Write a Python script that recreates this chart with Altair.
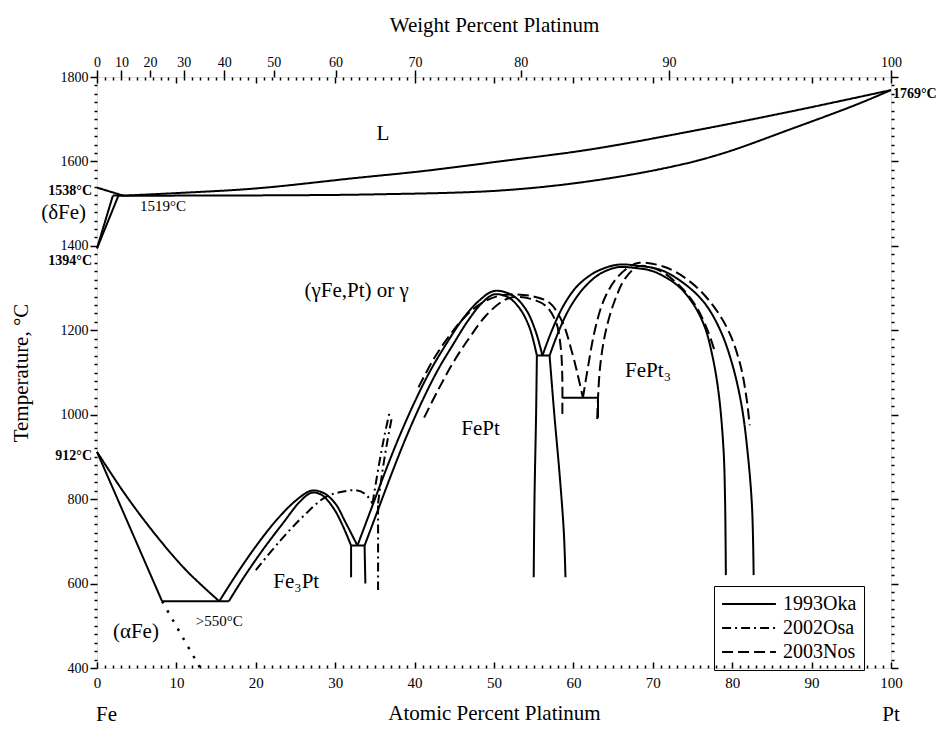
import altair as alt
import pandas as pd

SERIF = "Liberation Serif"

# ---------------- data: x = at.% Pt, t = temperature (°C) ----------------
# 1993Oka (solid)
liq_delta_x = [0, 3.3]
liq_delta_t = [1538, 1519]
liq_x = [3.3, 10, 20, 32.7, 41, 50.7, 62, 74.7, 87.3, 100]
liq_t = [1519, 1525, 1536, 1561, 1577, 1600, 1628, 1671, 1718, 1769]
sol_x = [2.7, 10, 20, 35, 50.7, 62, 72.5, 78.8, 87.3, 95.7, 100]
sol_t = [1519, 1519, 1519.5, 1522, 1531, 1553, 1588, 1619, 1676, 1735, 1769]
peri_x = [2.0, 3.3]
peri_t = [1519, 1519]
delta_a_x = [0, 2.0]
delta_a_t = [1394, 1519]
delta_b_x = [0, 2.7]
delta_b_t = [1394, 1519]
alpha_x = [0, 8.2]
alpha_t = [912, 558]
gamma_a_x = [0, 3.6, 7.4, 11.2, 15.4]
gamma_a_t = [912, 810, 715, 632, 558]
eut558_x = [8.2, 16.6]
eut558_t = [558, 558]
fe3pt_out_x = [15.4, 17.5, 20, 22.5, 25, 27, 28.5, 30, 31.3, 32.8]
fe3pt_out_t = [558, 620, 688, 748, 796, 820, 815, 790, 745, 690]
fe3pt_in_x = [16.6, 18.5, 21, 23.5, 25.5, 27, 28.3, 29.8, 31, 32.0]
fe3pt_in_t = [558, 615, 683, 745, 793, 815, 810, 778, 735, 690]
eut690_x = [32.0, 33.7]
eut690_t = [690, 690]
fe3pt_solv_x = [32.0, 32.0]
fe3pt_solv_t = [690, 615]
fept_solv_l_x = [33.7, 33.8]
fept_solv_l_t = [690, 600]
fept_out_x = [32.8, 34.4, 36.2, 38, 40, 42, 44, 46, 48, 50, 52.3, 54, 55.2, 56.1]
fept_out_t = [690, 770, 860, 945, 1030, 1105, 1168, 1225, 1268, 1293, 1283, 1250, 1200, 1140]
fept_in_x = [33.7, 35.3, 37.1, 38.9, 40.9, 42.9, 44.9, 46.7, 48.5, 50, 51.8, 53.3, 54.5, 55.4]
fept_in_t = [690, 770, 860, 945, 1030, 1105, 1168, 1222, 1265, 1285, 1278, 1250, 1205, 1140]
fept_solv_r_x = [55.4, 55.3, 55.1, 55.0]
fept_solv_r_t = [1140, 1000, 800, 615]
eut1140_x = [55.4, 57.0]
eut1140_t = [1140, 1140]
fept3_out_x = [56.1, 57.3, 58.8, 60.5, 62.5, 64.5, 66, 68, 71, 74, 76.5, 78.5, 80, 81.2, 82, 82.5, 82.7]
fept3_out_t = [1140, 1200, 1260, 1305, 1335, 1351, 1356, 1353, 1343, 1310, 1265, 1200, 1120, 1020, 900, 780, 620]
fept3_in_x = [57.0, 58.2, 59.6, 61.3, 63.2, 65, 66, 68, 70, 73, 75, 76.5, 77.5, 78.3, 78.9, 79.1, 79.2]
fept3_in_t = [1140, 1200, 1255, 1300, 1332, 1347, 1350, 1347, 1340, 1308, 1265, 1210, 1140, 1050, 920, 800, 620]
fept3_solv_l_x = [57.0, 57.6, 58.3, 58.8, 59.0]
fept3_solv_l_t = [1140, 1000, 850, 720, 615]
eut1040_x = [58.6, 63.1]
eut1040_t = [1040, 1040]
v1040_x = [63.1, 63.1]
v1040_t = [1040, 993]

# 2002Osa (dash-dot)
osa_fe3pt_x = [20, 23, 26, 28.8, 31, 32.6, 33.8, 34.7]
osa_fe3pt_t = [632, 700, 760, 805, 818, 821, 812, 790]
osa_fept_a_x = [34.7, 35.5, 36.2, 36.9]
osa_fept_a_t = [790, 880, 950, 1010]
osa_fept_b_x = [35.4, 35.9, 36.5, 37.1]
osa_fept_b_t = [790, 860, 930, 990]
osa_solv_x = [35.4, 35.4]
osa_solv_t = [785, 585]

# 2003Nos (dashed)
nos_fept_out_x = [40.5, 42.5, 44.5, 46.5, 48.5, 50.5, 52.3, 55, 57, 58.6, 59.8, 60.6, 61.2]
nos_fept_out_t = [1065, 1135, 1190, 1235, 1265, 1281, 1285, 1280, 1265, 1220, 1150, 1090, 1040]
nos_fept_in_x = [41.2, 43, 45, 47, 49, 51, 52.3, 54.5, 56.5, 57.8, 58.4, 58.6, 58.6]
nos_fept_in_t = [993, 1060, 1128, 1185, 1235, 1268, 1278, 1275, 1258, 1220, 1160, 1090, 990]
nos_fept3_out_x = [61.2, 61.9, 62.7, 63.8, 65.3, 67, 68.3, 71.5, 74.5, 77.2, 79.5, 81, 81.8, 82.2]
nos_fept3_out_t = [1040, 1120, 1200, 1270, 1320, 1350, 1360, 1350, 1318, 1268, 1200, 1120, 1040, 975]
nos_fept3_in_x = [63.0, 63.1, 63.4, 64.1, 65.2, 66.6, 68.3, 71, 73.5, 75.5, 77, 77.8]
nos_fept3_in_t = [990, 1040, 1120, 1200, 1270, 1325, 1352, 1340, 1303, 1255, 1195, 1150]

# metastable alpha solvus extension (dotted)
alpha_ext_x = [8.2, 13]
alpha_ext_t = [558, 400]

sources = ["1993Oka", "2002Osa", "2003Nos"]

# top axis: weight percent ticks
wt_ticks = [0, 10, 20, 30, 40, 50, 60, 70, 80, 90, 100]
M_FE, M_PT = 55.845, 195.08

# annotations
big_text = ["L", "(γFe,Pt) or γ", "FePt", "FePt₃", "Fe₃Pt", "(αFe)", "(δFe)"]
big_x = [36.0, 32.7, 48.3, 69.4, 25.1, 4.9, -4.2]
big_t = [1664, 1293, 965, 1104, 603, 485, 1477]
small_text = ["1519°C", ">550°C"]
small_x = [8.3, 15.4]
small_t = [1494, 511]
bold_l_text = ["1538°C", "1394°C", "912°C"]
bold_l_x = [0, 0, 0]
bold_l_t = [1530, 1364, 903]
bold_r_text = ["1769°C"]
bold_r_x = [100]
bold_r_t = [1760]
end_text = ["Fe", "Pt"]
end_x = [1.2, 100]
end_t = [289, 289]

# ---------------- build tables ----------------
curves = [
    ("liq_delta", "1993Oka", liq_delta_x, liq_delta_t),
    ("liq", "1993Oka", liq_x, liq_t),
    ("sol", "1993Oka", sol_x, sol_t),
    ("peri", "1993Oka", peri_x, peri_t),
    ("delta_a", "1993Oka", delta_a_x, delta_a_t),
    ("delta_b", "1993Oka", delta_b_x, delta_b_t),
    ("alpha", "1993Oka", alpha_x, alpha_t),
    ("gamma_a", "1993Oka", gamma_a_x, gamma_a_t),
    ("eut558", "1993Oka", eut558_x, eut558_t),
    ("fe3pt_out", "1993Oka", fe3pt_out_x, fe3pt_out_t),
    ("fe3pt_in", "1993Oka", fe3pt_in_x, fe3pt_in_t),
    ("eut690", "1993Oka", eut690_x, eut690_t),
    ("fe3pt_solv", "1993Oka", fe3pt_solv_x, fe3pt_solv_t),
    ("fept_solv_l", "1993Oka", fept_solv_l_x, fept_solv_l_t),
    ("fept_out", "1993Oka", fept_out_x, fept_out_t),
    ("fept_in", "1993Oka", fept_in_x, fept_in_t),
    ("fept_solv_r", "1993Oka", fept_solv_r_x, fept_solv_r_t),
    ("eut1140", "1993Oka", eut1140_x, eut1140_t),
    ("fept3_out", "1993Oka", fept3_out_x, fept3_out_t),
    ("fept3_in", "1993Oka", fept3_in_x, fept3_in_t),
    ("fept3_solv_l", "1993Oka", fept3_solv_l_x, fept3_solv_l_t),
    ("eut1040", "1993Oka", eut1040_x, eut1040_t),
    ("v1040", "1993Oka", v1040_x, v1040_t),
    ("osa_fe3pt", "2002Osa", osa_fe3pt_x, osa_fe3pt_t),
    ("osa_fept_a", "2002Osa", osa_fept_a_x, osa_fept_a_t),
    ("osa_fept_b", "2002Osa", osa_fept_b_x, osa_fept_b_t),
    ("osa_solv", "2002Osa", osa_solv_x, osa_solv_t),
    ("nos_fept_out", "2003Nos", nos_fept_out_x, nos_fept_out_t),
    ("nos_fept_in", "2003Nos", nos_fept_in_x, nos_fept_in_t),
    ("nos_fept3_out", "2003Nos", nos_fept3_out_x, nos_fept3_out_t),
    ("nos_fept3_in", "2003Nos", nos_fept3_in_x, nos_fept3_in_t),
]
rows = []
for name, src, xs, ts in curves:
    for i, (xv, tv) in enumerate(zip(xs, ts)):
        rows.append({"curve": name, "source": src, "x": xv, "T": tv, "i": i})
df = pd.DataFrame(rows)

df_dot = pd.DataFrame({"x": alpha_ext_x, "T": alpha_ext_t, "i": list(range(len(alpha_ext_x)))})


def wt_to_at(w):
    if w <= 0:
        return 0.0
    if w >= 100:
        return 100.0
    a = w / M_PT
    b = (100 - w) / M_FE
    return 100 * a / (a + b)


wt_pos = [round(wt_to_at(w), 3) for w in wt_ticks]
expr = "'%d'" % wt_ticks[-1]
for k in range(len(wt_pos) - 2, -1, -1):
    mid = (wt_pos[k] + wt_pos[k + 1]) / 2
    expr = "datum.value < %.3f ? '%d' : (%s)" % (mid, wt_ticks[k], expr)

xscale = alt.Scale(domain=[0, 100], nice=False, zero=False)
yscale = alt.Scale(domain=[400, 1800], nice=False, zero=False)
W, H = 794, 591

minor_x = list(range(0, 101, 1))
minor_y = list(range(400, 1801, 20))

x_bottom = alt.Axis(orient="bottom", values=list(range(0, 101, 10)), ticks=False, tickSize=0,
                    domain=False, grid=False, labelFont=SERIF, labelFontSize=15, labelPadding=7,
                    labelColor="black", labelFlush=False,
                    title="Atomic Percent Platinum", titleFont=SERIF, titleFontSize=21,
                    titleFontWeight="normal", titleColor="black", titlePadding=12)
y_left = alt.Axis(orient="left", values=minor_y, grid=False, domain=False, format="d",
                  labelExpr="datum.value % 200 === 0 ? datum.label : ''",
                  labelOverlap=False, labelFlush=False,
                  tickSize={"condition": {"test": "datum.value % 200 === 0", "value": 7}, "value": 3},
                  tickColor="black", tickWidth=1.5,
                  labelFont=SERIF, labelFontSize=14, labelPadding=2, labelColor="black",
                  title="Temperature, °C", titleFont=SERIF, titleFontSize=21,
                  titleFontWeight="normal", titleColor="black", titlePadding=29)
x_top = alt.Axis(orient="top", values=wt_pos, labelExpr=expr, grid=False, domain=False,
                 tickSize=7, tickColor="black", tickWidth=1.5, labelOverlap=False, labelFlush=False,
                 labelFont=SERIF, labelFontSize=14, labelPadding=1, labelColor="black",
                 title="Weight Percent Platinum", titleFont=SERIF, titleFontSize=21,
                 titleFontWeight="normal", titleColor="black", titlePadding=20)
y_right = alt.Axis(orient="right", values=minor_y, labels=False, grid=False, domain=False,
                   tickSize={"condition": {"test": "datum.value % 200 === 0", "value": 7}, "value": 3},
                   tickColor="black", tickWidth=1.5, title=None)
x_in_bottom = alt.Axis(orient="top", offset=-H, values=minor_x, labels=False, grid=False, domain=False,
                       tickSize={"condition": {"test": "datum.value % 10 === 0", "value": 6}, "value": 3},
                       tickColor="black", tickWidth=1.5, title=None)
x_in_top = alt.Axis(orient="bottom", offset=-H, values=minor_x, labels=False, grid=False, domain=False,
                    tickSize={"condition": {"test": "datum.value % 10 === 0", "value": 6}, "value": 3},
                    tickColor="black", tickWidth=1.5, title=None)

lines = alt.Chart(df).mark_line(color="black", strokeWidth=2, interpolate="catmull-rom").encode(
    x=alt.X("x:Q", scale=xscale, axis=x_bottom),
    y=alt.Y("T:Q", scale=yscale, axis=y_left),
    detail="curve:N",
    order="i:Q",
    strokeDash=alt.StrokeDash(
        "source:N",
        scale=alt.Scale(domain=sources, range=[[1, 0], [9, 4, 2, 4], [11, 5]]),
        legend=alt.Legend(title=None, orient="none", legendX=617, legendY=509,
                          strokeColor="black", padding=7, symbolType="stroke",
                          symbolSize=2900, symbolStrokeWidth=2, symbolStrokeColor="black",
                          clipHeight=22,
                          labelFont=SERIF, labelFontSize=20, labelColor="black",
                          labelOffset=6, rowPadding=2, symbolOffset=0),
    ),
)

dotted = alt.Chart(df_dot).mark_line(color="black", strokeWidth=2.5, strokeDash=[2.5, 8]).encode(
    x=alt.X("x:Q", scale=xscale, axis=x_top),
    y=alt.Y("T:Q", scale=yscale, axis=y_right),
    order="i:Q",
)


def text_layer(texts, xs, ts, size, weight="normal", align="center", dx=0, xaxis=None):
    d = pd.DataFrame({"label": texts, "x": xs, "T": ts})
    return alt.Chart(d).mark_text(font=SERIF, fontSize=size, fontWeight=weight, align=align,
                                  baseline="middle", dx=dx, color="black").encode(
        x=alt.X("x:Q", scale=xscale, axis=xaxis),
        y=alt.Y("T:Q", scale=yscale, axis=None),
        text="label:N",
    )


t_big = text_layer(big_text, big_x, big_t, 21, xaxis=x_in_bottom)
t_small = text_layer(small_text, small_x, small_t, 15, xaxis=x_in_top)
t_bold_l = text_layer(bold_l_text, bold_l_x, bold_l_t, 14, weight="bold", align="right", dx=-5)
t_bold_r = text_layer(bold_r_text, bold_r_x, bold_r_t, 14, weight="bold", align="left", dx=2)
t_end = text_layer(end_text, end_x, end_t, 21)

chart = alt.layer(lines, dotted, t_big, t_small, t_bold_l, t_bold_r, t_end).resolve_axis(
    x="independent", y="independent"
).properties(
    width=W, height=H,
    padding={"left": 89, "top": 69, "right": 48, "bottom": 57},
    autosize=alt.AutoSizeParams(type="none"),
).configure_view(stroke="black", strokeWidth=2).configure(background="white")

chart.save("out.html", embed_options={"renderer": "svg", "actions": False})
